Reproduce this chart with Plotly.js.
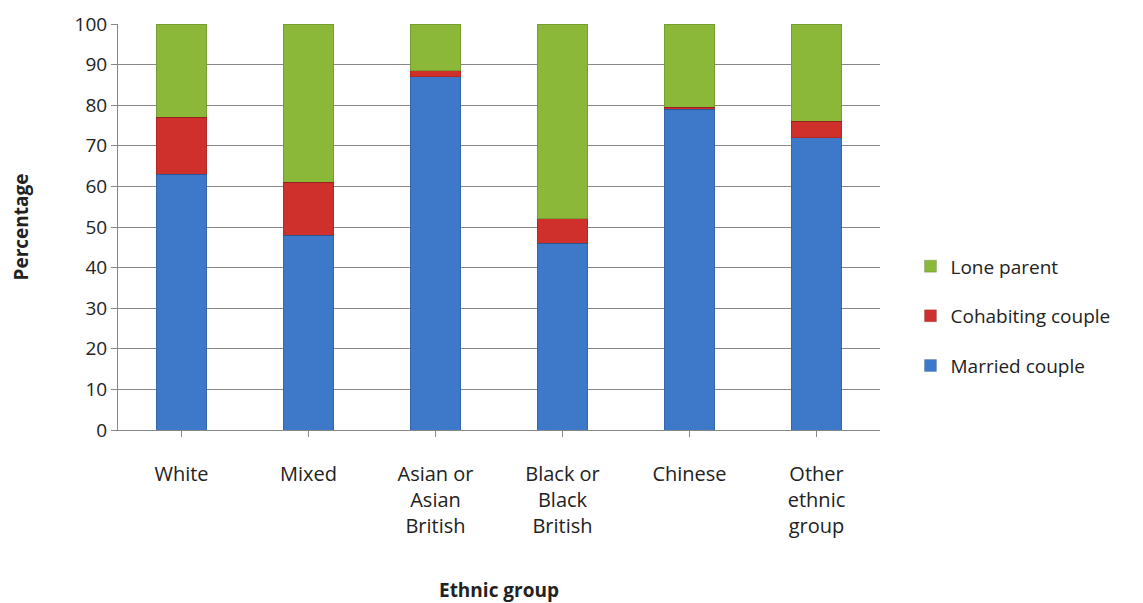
<!DOCTYPE html>
<html><head><script src="https://cdn.plot.ly/plotly-3.0.1.min.js"></script></head>
<body style="margin:0">
<div id="c" style="width:1143px;height:603px"></div>
<script>
const categories = ["White","Mixed","Asian or<br>Asian<br>British","Black or<br>Black<br>British","Chinese","Other<br>ethnic<br>group"];
const married = [63,48,87,46,79,72];
const cohabiting = [14,13,1.5,6,0.5,4];
const lone = [23,39,11.5,48,20.5,24];
const mk=(name,y,color,g,r)=>({type:'bar',name,legendgroup:g,legendrank:r,x:categories,y,width:0.4,marker:{color,line:{color:'rgba(0,0,0,0.15)',width:1}}});
Plotly.newPlot('c',[mk('Married couple',married,'#3d78c9','a',3),mk('Cohabiting couple',cohabiting,'#d0302c','b',2),mk('Lone parent',lone,'#8cb83a','c',1)],{
 barmode:'stack',paper_bgcolor:'white',plot_bgcolor:'white',
 font:{family:'Open Sans, sans-serif',size:19,color:'#222'},
 margin:{l:118,r:263,t:24,b:173},
 xaxis:{showline:true,linecolor:'#888',ticks:'outside',ticklen:6,tickcolor:'#888',tickfont:{size:20},ticklabelstandoff:20,
   title:{text:'<b>Ethnic group</b>',font:{size:19},standoff:55}},
 yaxis:{range:[0,100],dtick:10,showline:true,linecolor:'#888',gridcolor:'#888',ticks:'outside',ticklen:6,tickcolor:'#888',
   title:{text:'<b>Percentage</b>',font:{size:19},standoff:40}},
 legend:{x:1.04,y:0.28,yanchor:'middle',font:{size:19},traceorder:'grouped',tracegroupgap:22},
 showlegend:true
},{displayModeBar:false});
</script></body></html>
